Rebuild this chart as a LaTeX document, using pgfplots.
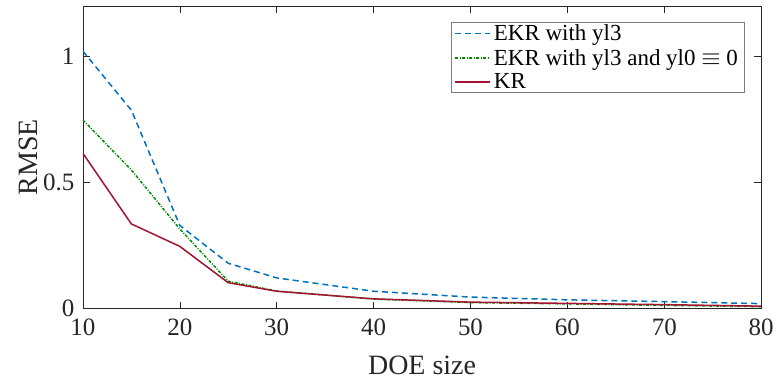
\documentclass[border=0pt]{standalone}
\usepackage{fontspec}
\setmainfont{Liberation Serif}
\usepackage{pgfplots}
\pgfplotsset{compat=1.18}
\definecolor{mblue}{rgb}{0,0.447,0.741}
\definecolor{mgreen}{rgb}{0,0.55,0}
\definecolor{mred}{rgb}{0.6353,0.0784,0.1843}
\definecolor{axgray}{rgb}{0.15,0.15,0.15}
\begin{document}
\begin{tikzpicture}
\begin{axis}[
  scale only axis,
  width=679pt, height=303pt,
  xmin=10, xmax=80, ymin=0, ymax=1.2,
  xtick={10,20,...,80},
  ytick={0,0.5,1},
  yticklabels={0,0.5,1},
  tick align=inside,
  major tick length=7pt,
  axis line style={axgray, line width=0.6pt},
  every tick/.style={axgray, line width=0.6pt},
  tick label style={font=\fontsize{25}{25}\selectfont, text=axgray},
  /pgf/number format/assume math mode=true,
  xlabel={DOE size}, ylabel={RMSE},
  label style={font=\fontsize{28}{28}\selectfont, text=axgray},
  xlabel style={at={(axis description cs:0.5,0)}, anchor=center, yshift=-57pt},
  ylabel style={at={(axis description cs:0,0.5)}, anchor=center, yshift=55pt},
  xticklabel style={yshift=-7pt},
  yticklabel style={xshift=-5pt},
  legend style={at={(axis cs:80,1.2)}, anchor=north east, xshift=-17pt, yshift=-16pt,
    font=\fontsize{23}{25}\selectfont, draw=axgray!60, line width=0.6pt,
    inner xsep=3pt, inner ysep=1pt, row sep=4pt,
    nodes={inner xsep=3pt, inner ysep=1.5pt}},
  legend cell align=left,
  legend image code/.code={\draw[#1] (0pt,0pt) -- (35pt,0pt);},
]
\addplot[mblue, line width=1.5pt, dash pattern=on 6pt off 4pt] coordinates {
(10,1.021) (15,0.787) (20,0.33) (25,0.18) (30,0.122) (40,0.069) (50,0.046) (60,0.035) (70,0.028) (80,0.02)};
\addlegendentry{EKR with yl3}
\addplot[mgreen, line width=1.5pt, dash pattern=on 3pt off 1.5pt on 1pt off 1.5pt] coordinates {
(10,0.748) (15,0.55) (20,0.316) (25,0.109) (30,0.07) (40,0.038) (50,0.024) (60,0.019) (70,0.013) (80,0.008)};
\addlegendentry{EKR with yl3 and yl0 $\equiv$ 0}
\addplot[mred, line width=1.5pt] coordinates {
(10,0.616) (15,0.336) (20,0.247) (25,0.103) (30,0.069) (40,0.039) (50,0.026) (60,0.021) (70,0.016) (80,0.01)};
\addlegendentry{KR}
\end{axis}
\path ([shift={(-83pt,-72pt)}]current axis.south west) rectangle ([shift={(15pt,6pt)}]current axis.north east);
\end{tikzpicture}
\end{document}
